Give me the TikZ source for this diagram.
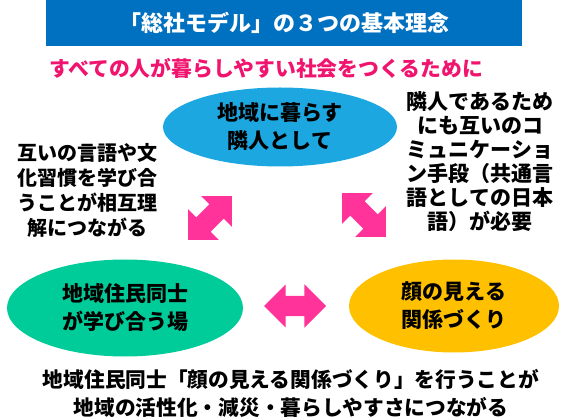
\documentclass[tikz,border=0pt]{standalone}
\usepackage{fontspec}
\setmainfont{Noto Sans CJK JP}
\usepackage{xcolor}
\usetikzlibrary{shapes.geometric,shapes.arrows,positioning}

\definecolor{titleblue}{RGB}{0,112,192}
\definecolor{leadpink}{RGB}{240,20,110}
\definecolor{arrowpink}{RGB}{255,51,153}
\definecolor{skyblue}{RGB}{28,167,224}
\definecolor{mintgreen}{RGB}{0,204,153}
\definecolor{amber}{RGB}{255,192,0}

\tikzset{
  idea/.style={ellipse,inner sep=0pt,align=center,font=\bfseries\fontsize{21}{28}\selectfont},
  note/.style={align=center,inner sep=0pt,font=\bfseries\fontsize{20}{25}\selectfont},
  linkarrow/.style={double arrow,fill=arrowpink,inner sep=0pt,inner ysep=10pt,
    double arrow head extend=11.5pt,minimum height=62pt}
}

\begin{document}
\begin{tikzpicture}[x=1pt,y=1pt]
  \useasboundingbox (0,0) rectangle (581,418);
  \node[fill=titleblue,text=white,minimum width=476pt,minimum height=46pt,
    font=\bfseries\fontsize{22}{26}\selectfont] (title) at (284,395)
    {「総社モデル」の３つの基本理念};
  \node[text=leadpink,inner sep=0pt,font=\bfseries\fontsize{20.8}{25}\selectfont] (lead) at (266,350)
    {すべての人が暮らしやすい社会をつくるために};
  \node[idea,fill=skyblue,minimum width=234pt,minimum height=79pt] (neighbour) at (280,291)
    {地域に暮らす\\隣人として};
  \node[idea,fill=mintgreen,minimum width=236pt,minimum height=97pt] (learn) at (125,110)
    {地域住民同士\\が学び合う場};
  \node[idea,fill=amber,minimum width=210pt,minimum height=93pt] (faces) at (454,112)
    {顔の見える\\関係づくり};
  \node[note] (mutual) at (87,228)
    {互いの言語や文\\化習慣を学び合\\うことが相互理\\解につながる};
  \node[note,font=\bfseries\fontsize{21}{24}\selectfont] (language) at (480,256)
    {隣人であるため\\にも互いのコ\\ミュニケーショ\\ン手段（共通言\\語としての日本\\語）が必要};
  \node[note,font=\bfseries\fontsize{20.7}{28}\selectfont] (result) at (291,25)
    {地域住民同士「顔の見える関係づくり」を行うことが\\地域の活性化・減災・暮らしやすさにつながる};
  % arrows between the three ideas
  \node[linkarrow,rotate=45] (leftlink) at (210,200) {};
  \node[linkarrow,rotate=-45] (rightlink) at (364,203) {};
  \node[linkarrow] (bottomlink) at (295,112) {};
\end{tikzpicture}
\end{document}
